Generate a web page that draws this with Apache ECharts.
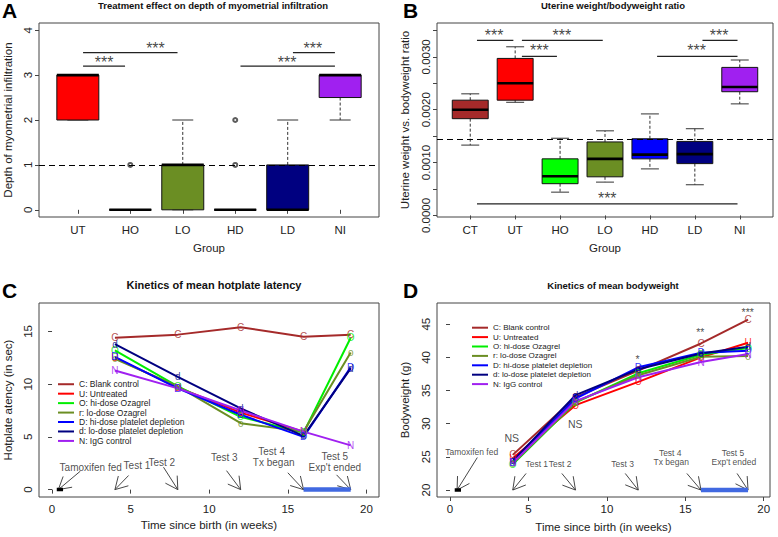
<!DOCTYPE html>
<html><head><meta charset="utf-8">
<script src="https://cdn.jsdelivr.net/npm/echarts@6/dist/echarts.min.js"></script>
<style>html,body{margin:0;padding:0;background:#fff}#c{width:778px;height:537px}</style>
</head><body><div id="c"></div>
<script>
// ---------- Panel A data ----------
const groupsA = ['UT','HO','LO','HD','LD','NI'];
// [min, Q1, median, Q3, max]
const statsA = [[2,2,3,3,3],[0,0,0,0,0],[0,0,1,1,2],[0,0,0,0,0],[0,0,0,1,2],[2,2.5,3,3,3]];
const outliersA = [[2,1],[4,1],[4,2]];
const refLineA = 1;
const sigLinesA = [[1.1,1.9,3.2],[1.1,2.9,3.5],[4.1,5.9,3.2],[5.1,5.9,3.5]];
const sigTextA = [[1.5,3.37],[2.48,3.69],[4.99,3.37],[5.48,3.69]];

// ---------- Panel B data ----------
const groupsB = ['CT','UT','HO','LO','HD','LD','NI'];
const statsB = [
  [0.00133,0.00183,0.00200,0.00218,0.00230],
  [0.00214,0.00218,0.00250,0.00297,0.00319],
  [0.00044,0.00060,0.00074,0.00107,0.00146],
  [0.00063,0.00073,0.00107,0.00139,0.00160],
  [0.00088,0.00107,0.00115,0.00145,0.00192],
  [0.00058,0.00098,0.00116,0.00140,0.00164],
  [0.00211,0.00234,0.00243,0.00280,0.00294]
];
const refLineB = 0.00145;
const sigLinesB = [[1.15,1.96,0.00331],[2.15,3.95,0.00331],[2.15,2.93,0.00301],[5.16,6.95,0.00301],[6.17,6.95,0.00331],[1.15,6.95,0.00022]];
const sigTextB = [[1.53,0.00347],[3.04,0.00347],[2.54,0.00320],[6.04,0.00320],[6.54,0.00347],[4.05,0.00039]];

// ---------- Panels C & D data ----------
const weeks = [4, 8, 12, 16, 19];
const groupNames = ['C: Blank control','U: Untreated','O: hi-dose Ozagrel','r: lo-dose Ozagrel','D: hi-dose platelet depletion','d: lo-dose platelet depletion','N: IgG control'];
const pointLetters = ['C','U','O','o','D','d','N'];
const latencyC = [14.4, 14.7, 15.4, 14.5, 14.7];
const latencyU = [12.5, 9.7, 7.3, 5.5, null];
const latencyO = [13.2, 9.8, 6.9, 5.4, 14.4];
const latencyR = [12.4, 9.8, 6.3, 5.5, 13.0];
const latencyDh = [12.6, 9.6, 7.1, 5.0, 11.6];
const latencyDl = [13.8, 10.7, 7.7, 5.1, 11.5];
const latencyN = [11.3, 9.6, 7.5, 5.5, 4.2];
const weightC = [25.3, 34.0, 38.0, 42.1, 45.7];
const weightU = [24.8, 32.8, 36.3, 40.0, 42.2];
const weightO = [23.9, 33.2, 37.6, 40.4, 41.4];
const weightR = [24.0, 33.3, 37.3, 40.1, 40.2];
const weightDh = [24.2, 33.8, 38.5, 40.7, 41.0];
const weightDl = [24.4, 34.3, 38.2, 40.6, 41.6];
const weightN = [24.1, 33.4, 37.0, 39.3, 40.5];

const tamoxifenC = [[0.3,0],[0.7,0]];
const treatmentC = [[16,0],[19,0]];
const tamoxifenD = [[0.3,20],[0.7,20]];
const treatmentD = [[16,20],[19,20]];
// arrows [x0,y0,x1(tip),y1(tip)]
const arrowsC = [[1.8,1.75,0.4,0],[4.87,1.34,4,0],[7.09,2.13,8,0],[11.1,1.8,12,0],[15.0,1.6,16,0],[18.1,1.4,19,0]];
const notesC = [['Tamoxifen fed',2.46,2.13],['Test 1',5.4,2.32],['Test 2',6.98,2.58],['Test 3',10.96,3.09],['Test 4',13.97,3.66],['Tx began',14.1,2.58],['Test 5',17.99,3.18],["Exp't ended",17.99,2.1]];
const arrowsD = [[1.74,24.9,0.45,20],[4.85,22.5,4,20],[7.13,22.5,8,20],[11.17,22.5,12,20],[15.1,22.5,16,20],[18.3,22.5,19,20]];
const notesD = [['Tamoxifen fed',1.38,25.77],['Test 1',5.53,23.87],['Test 2',7.02,23.87],['Test 3',11.0,23.87],['Test 4',14.04,25.6],['Tx began',14.1,24.3],['Test 5',18.04,25.6],["Exp't ended",18.1,24.3]];
const signifD = [['NS',3.94,27.9],['NS',7.98,29.9],['*',11.96,39.8],['**',15.96,43.9],['***',18.98,46.9]];

// ---------- styles ----------
const FONT = 'Liberation Sans, Arial, Helvetica, sans-serif';
const colorsA = ['#FF0000','#FF0000','#6B8E23','#0000FF','#000080','#A020F0'];
const colorsB = ['#A52A2A','#FF0000','#00FF00','#6B8E23','#0000FF','#000080','#A020F0'];
const lineColors = ['#A52A2A','#FF0000','#00EE00','#6B8E23','#0000FF','#000080','#A020F0'];
const latency = [latencyC, latencyU, latencyO, latencyR, latencyDh, latencyDl, latencyN];
const weight = [weightC, weightU, weightO, weightR, weightDh, weightDl, weightN];

function seg(a, b, stroke, lw, dash) {
  return {type:'line', shape:{x1:a[0],y1:a[1],x2:b[0],y2:b[1]}, style:{stroke:stroke||'#000', lineWidth:lw||1, lineDash:dash||null}};
}
function boxRender(colors) {
  return function(params, api) {
    const x = api.value(0), mn = api.value(1), q1 = api.value(2), md = api.value(3), q3 = api.value(4), mx = api.value(5);
    const hw = 0.4, cw = 0.2;
    const p = (a, b) => api.coord([a, b]);
    const tl = p(x - hw, q3), br = p(x + hw, q1);
    return {type:'group', children:[
      seg(p(x, q3), p(x, mx), '#333', 1, [3, 2]),
      seg(p(x, q1), p(x, mn), '#333', 1, [3, 2]),
      seg(p(x - cw, mx), p(x + cw, mx), '#333', 1),
      seg(p(x - cw, mn), p(x + cw, mn), '#333', 1),
      {type:'rect', shape:{x:tl[0], y:tl[1], width:br[0]-tl[0], height:br[1]-tl[1]}, style:{fill:colors[params.dataIndex], stroke:'#111', lineWidth:1}},
      seg(p(x - hw, md), p(x + hw, md), '#000', 2.6)
    ]};
  };
}
function sigRender(params, api) {
  const a = api.coord([api.value(0), api.value(2)]), b = api.coord([api.value(1), api.value(2)]);
  return seg(a, b, '#222', 1.3);
}
function arrowRender(params, api) {
  const p0 = api.coord([api.value(0), api.value(1)]), p1 = api.coord([api.value(2), api.value(3)]);
  const ang = Math.atan2(p0[1] - p1[1], p0[0] - p1[0]);
  const L = 14, a = Math.PI / 6;
  const h1 = [p1[0] + L * Math.cos(ang + a), p1[1] + L * Math.sin(ang + a)];
  const h2 = [p1[0] + L * Math.cos(ang - a), p1[1] + L * Math.sin(ang - a)];
  return {type:'group', children:[seg(p0, p1, '#333', 0.9), seg(p1, h1, '#333', 0.9), seg(p1, h2, '#333', 0.9)]};
}

function xAxisCfg(grid, min, max, ticks, fmt, name, nameGap, margin) {
  return {type:'value', gridIndex:grid, min:min, max:max, splitLine:{show:false},
    axisLine:{show:false},
    axisTick:{show:true, length:4, customValues:ticks, lineStyle:{color:'#444'}},
    axisLabel:{customValues:ticks, formatter:fmt, margin:margin, fontSize:11.5, color:'#222', fontFamily:FONT},
    name:name, nameLocation:'middle', nameGap:nameGap, nameTextStyle:{fontSize:11.5, color:'#222', fontFamily:FONT}};
}
function yAxisCfg(grid, min, max, ticks, labels, fmt, name, nameGap, margin) {
  return {type:'value', gridIndex:grid, min:min, max:max, splitLine:{show:false},
    axisLine:{show:false},
    axisTick:{show:true, length:4, customValues:ticks, lineStyle:{color:'#444'}},
    axisLabel:{customValues:labels, formatter:fmt, rotate:90, margin:margin, fontSize:11.5, color:'#222', fontFamily:FONT},
    name:name, nameLocation:'middle', nameRotate:90, nameGap:nameGap, nameTextStyle:{fontSize:11.5, color:'#222', fontFamily:FONT}};
}
const gridStyle = {show:true, borderColor:'#444', borderWidth:1, containLabel:false};
const refLineStyle = {silent:true, symbol:'none', precision:8, label:{show:false}, lineStyle:{color:'#000', width:1.2, type:[6,4]}};

const series = [];
// Panel A
series.push({type:'custom', xAxisIndex:0, yAxisIndex:0, data:statsA.map((s,i)=>[i+1].concat(s)), renderItem:boxRender(colorsA), z:3,
  markLine:Object.assign({data:[{yAxis:refLineA}]}, refLineStyle)});
series.push({type:'scatter', xAxisIndex:0, yAxisIndex:0, data:outliersA, symbol:'emptyCircle', symbolSize:4, itemStyle:{color:'#333', borderWidth:0.8}, z:4});
series.push({type:'custom', xAxisIndex:0, yAxisIndex:0, data:sigLinesA, renderItem:sigRender, z:4});
series.push({type:'scatter', xAxisIndex:0, yAxisIndex:0, data:sigTextA.map(p=>({value:p, name:'***'})), symbolSize:1, itemStyle:{color:'rgba(0,0,0,0)'},
  label:{show:true, position:'inside', formatter:'{b}', fontSize:16, color:'#111', fontFamily:FONT, offset:[0,4]}, z:5});
// Panel B
series.push({type:'custom', xAxisIndex:1, yAxisIndex:1, data:statsB.map((s,i)=>[i+1].concat(s)), renderItem:boxRender(colorsB), z:3,
  markLine:Object.assign({data:[{yAxis:refLineB}]}, refLineStyle)});
series.push({type:'custom', xAxisIndex:1, yAxisIndex:1, data:sigLinesB, renderItem:sigRender, z:4});
series.push({type:'scatter', xAxisIndex:1, yAxisIndex:1, data:sigTextB.map(p=>({value:p, name:'***'})), symbolSize:1, itemStyle:{color:'rgba(0,0,0,0)'},
  label:{show:true, position:'inside', formatter:'{b}', fontSize:16, color:'#111', fontFamily:FONT, offset:[0,4]}, z:5});

// Panels C and D lines
function addKinetics(axisIdx, values, letterSize) {
  values.forEach((vals, i) => {
    const data = weeks.map((w, j) => [w, vals[j]]);
    series.push({name:groupNames[i], type:'line', xAxisIndex:axisIdx, yAxisIndex:axisIdx, data:data, showSymbol:false, symbol:'none',
      lineStyle:{color:lineColors[i], width:2}, itemStyle:{color:lineColors[i]}, connectNulls:false, z:3});
    series.push({type:'scatter', xAxisIndex:axisIdx, yAxisIndex:axisIdx, data:data.filter(d=>d[1]!==null), symbolSize:1, itemStyle:{color:'rgba(0,0,0,0)'},
      label:{show:true, position:'inside', formatter:pointLetters[i], color:lineColors[i], fontSize:letterSize, fontFamily:FONT}, z:4});
  });
}
addKinetics(2, latency, 10);
addKinetics(3, weight, 10);
function addAnnotations(axisIdx, tam, trt, arrows, notes, noteSize) {
  series.push({type:'line', xAxisIndex:axisIdx, yAxisIndex:axisIdx, data:tam, symbol:'none', lineStyle:{color:'#000', width:3.5}, z:5});
  series.push({type:'line', xAxisIndex:axisIdx, yAxisIndex:axisIdx, data:trt, symbol:'none', lineStyle:{color:'#4169E1', width:4.5}, z:5});
  series.push({type:'custom', xAxisIndex:axisIdx, yAxisIndex:axisIdx, data:arrows, renderItem:arrowRender, z:5});
  series.push({type:'scatter', xAxisIndex:axisIdx, yAxisIndex:axisIdx, data:notes.map(n=>({value:[n[1],n[2]], name:n[0]})), symbolSize:1, itemStyle:{color:'rgba(0,0,0,0)'},
    label:{show:true, position:'inside', formatter:'{b}', fontSize:noteSize, color:'#222', fontFamily:FONT}, z:5});
}
addAnnotations(2, tamoxifenC, treatmentC, arrowsC, notesC, 10);
addAnnotations(3, tamoxifenD, treatmentD, arrowsD, notesD, 8.5);
series.push({type:'scatter', xAxisIndex:3, yAxisIndex:3, data:signifD.map(n=>({value:[n[1],n[2]], name:n[0]})), symbolSize:1, itemStyle:{color:'rgba(0,0,0,0)'},
  label:{show:true, position:'inside', formatter:'{b}', fontSize:10.5, color:'#222', fontFamily:FONT}, z:5});

const option = {
  animation:false,
  textStyle:{fontFamily:FONT},
  title:[
    {text:'Treatment effect on depth of myometrial infiltration', left:213, top:0, textAlign:'center', padding:0, textStyle:{fontSize:9.5, fontWeight:'bold', color:'#111', fontFamily:FONT}},
    {text:'Uterine weight/bodyweight ratio', left:613, top:0, textAlign:'center', padding:0, textStyle:{fontSize:9.5, fontWeight:'bold', color:'#111', fontFamily:FONT}},
    {text:'Kinetics of mean hotplate latency', left:214, top:279, textAlign:'center', padding:0, textStyle:{fontSize:11, fontWeight:'bold', color:'#111', fontFamily:FONT}},
    {text:'Kinetics of mean bodyweight', left:613, top:280, textAlign:'center', padding:0, textStyle:{fontSize:9.5, fontWeight:'bold', color:'#111', fontFamily:FONT}}
  ],
  graphic:[
    {type:'text', x:2, y:10, style:{text:'A', font:'bold 21px '+FONT, fill:'#000', textVerticalAlign:'middle'}},
    {type:'text', x:403, y:10, style:{text:'B', font:'bold 21px '+FONT, fill:'#000', textVerticalAlign:'middle'}},
    {type:'text', x:2, y:290, style:{text:'C', font:'bold 21px '+FONT, fill:'#000', textVerticalAlign:'middle'}},
    {type:'text', x:403, y:290, style:{text:'D', font:'bold 21px '+FONT, fill:'#000', textVerticalAlign:'middle'}}
  ],
  legend:[
    {data:groupNames, orient:'vertical', left:58, top:379.5, padding:0, itemGap:0, itemWidth:16, itemHeight:2, icon:'rect',
      textStyle:{fontSize:8.5, lineHeight:9.45, color:'#222', fontFamily:FONT}},
    {data:groupNames, orient:'vertical', left:472, top:323, padding:0, itemGap:0, itemWidth:16, itemHeight:2, icon:'rect',
      textStyle:{fontSize:8, lineHeight:9.4, color:'#222', fontFamily:FONT}}
  ],
  grid:[
    Object.assign({left:39, top:23, width:340, height:194}, gridStyle),
    Object.assign({left:437, top:23, width:336, height:194}, gridStyle),
    Object.assign({left:39, top:303, width:340, height:194}, gridStyle),
    Object.assign({left:437, top:303, width:333, height:194}, gridStyle)
  ],
  xAxis:[
    xAxisCfg(0, 0.26, 6.74, [1,2,3,4,5,6], v => groupsA[Math.round(v)-1], 'Group', 25, 7),
    xAxisCfg(1, 0.26, 7.74, [1,2,3,4,5,6,7], v => groupsB[Math.round(v)-1], 'Group', 25, 7),
    xAxisCfg(2, -0.83, 20.8, [0,5,10,15,20], v => String(v), 'Time since birth (in weeks)', 22, 6),
    xAxisCfg(3, -0.83, 20.4, [0,5,10,15,20], v => String(v), 'Time since birth (in weeks)', 24, 6)
  ],
  yAxis:[
    yAxisCfg(0, -0.16, 4.16, [0,1,2,3,4], [0,1,2,3,4], v => String(v), 'Depth of myometrial infiltration', 25, 5),
    yAxisCfg(1, -0.00003, 0.00364, [0,0.0005,0.001,0.0015,0.002,0.0025,0.003,0.0035], [0,0.001,0.002,0.003], v => v.toFixed(4), 'Uterine weight vs. bodyweight ratio', 26, 5),
    yAxisCfg(2, -0.7, 17.7, [0,5,10,15], [0,5,10,15], v => String(v), 'Hotplate atency (in sec)', 25, 5),
    yAxisCfg(3, 18.95, 48.2, [20,25,30,35,40,45], [20,25,30,35,40,45], v => String(v), 'Bodyweight (g)', 26, 5)
  ],
  series:series
};
const chart = echarts.init(document.getElementById('c'), null, {renderer:'svg'});
chart.setOption(option);
</script>
</body></html>
